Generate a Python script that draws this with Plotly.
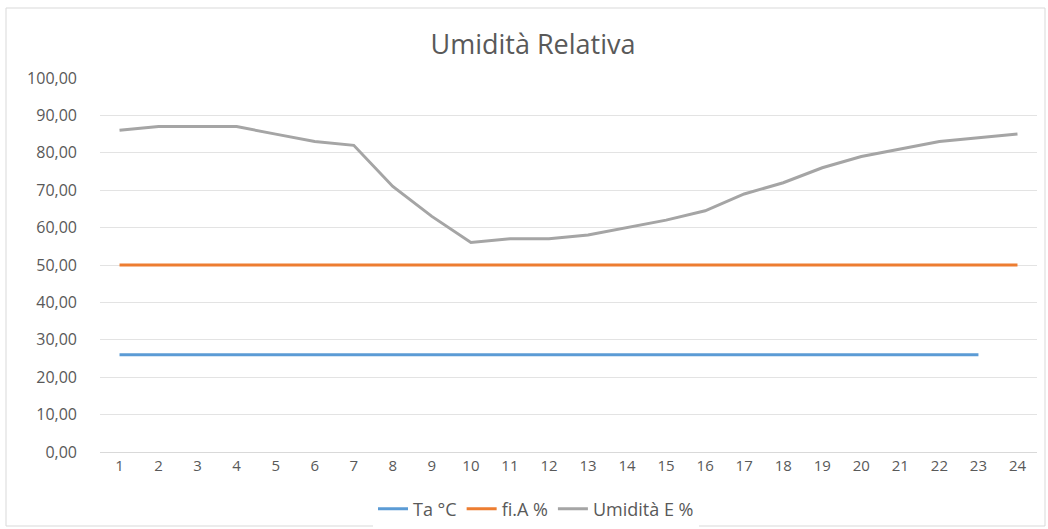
import plotly.graph_objects as go

# ore del giorno
hours = [str(h) for h in range(1, 25)]
ta = [26.0] * 23 + [None]
fi_a = [50.0] * 24
umid_e = [86, 87, 87, 87, 85, 83, 82, 71, 63, 56, 57, 57,
          58, 60, 62, 64.5, 69, 72, 76, 79, 81, 83, 84, 85]
y_ticks = [0, 10, 20, 30, 40, 50, 60, 70, 80, 90, 100]

font_name = "Open Sans"
grey_txt = "#595959"


def main():
    fig = go.Figure()
    fig.add_trace(go.Scatter(x=hours, y=ta, name="Ta °C", mode="lines",
                             line=dict(color="#5B9BD5", width=3)))
    fig.add_trace(go.Scatter(x=hours, y=fi_a, name="fi.A %", mode="lines",
                             line=dict(color="#ED7D31", width=3)))
    fig.add_trace(go.Scatter(x=hours, y=umid_e, name="Umidità E %", mode="lines",
                             line=dict(color="#A5A5A5", width=3)))

    W, H = 1048, 529
    ml, mr, mt, mb = 100, 11, 78, 77
    pw, ph = W - ml - mr, H - mt - mb

    fig.update_layout(
        width=W, height=H,
        margin=dict(l=ml, r=mr, t=mt, b=mb, autoexpand=False),
        paper_bgcolor="white", plot_bgcolor="white",
        separators=",.",
        font=dict(family=font_name, color=grey_txt, size=15),
        title=dict(text="Umidità Relativa", x=533 / W, xanchor="center",
                   y=1 - 45 / H, yanchor="middle",
                   font=dict(size=27, color=grey_txt, family=font_name)),
        showlegend=True,
        legend=dict(orientation="h", x=(536 - ml) / pw, xanchor="center",
                    yref="container", y=1 - 509 / H, yanchor="middle",
                    font=dict(size=18, color=grey_txt),
                    itemwidth=30, traceorder="normal"),
        shapes=[dict(type="rect", xref="paper", yref="paper",
                     x0=-(ml - 6) / pw, x1=1 + (mr - 3) / pw,
                     y0=-(mb - 3) / ph, y1=1 + (mt - 8) / ph,
                     line=dict(color="#D9D9D9", width=1))],
    )
    fig.update_xaxes(type="category", showgrid=False, showline=True,
                     linecolor="#D9D9D9", linewidth=1, ticks="",
                     tickfont=dict(size=15, color=grey_txt),
                     range=[-0.5, 23.5])
    fig.update_yaxes(range=[0, 100], tickvals=y_ticks, tickformat=".2f",
                     showgrid=True, gridcolor="#E3E3E3", gridwidth=1,
                     zeroline=False, showline=False, ticks="",
                     ticklabelstandoff=22,
                     tickfont=dict(size=16, color=grey_txt))
    fig.write_html("out.html", config={"displayModeBar": False},
                   post_script="document.body.style.margin='0';")


main()
